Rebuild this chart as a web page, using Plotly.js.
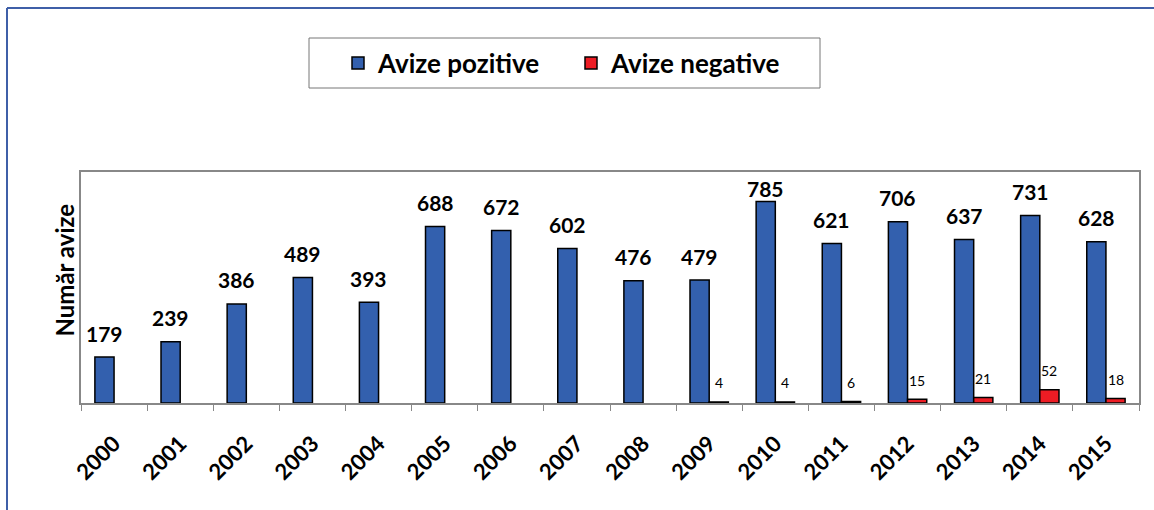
<!DOCTYPE html>
<html><head><meta charset="utf-8">
<script src="https://cdn.plot.ly/plotly-3.0.1.min.js"></script>
<style>html,body{margin:0;padding:0;background:#fff}#c{width:1154px;height:510px}</style>
</head><body><div id="c"></div>
<script>
const years = ['2000','2001','2002','2003','2004','2005','2006','2007','2008','2009','2010','2011','2012','2013','2014','2015'];
const pozitive = [179,239,386,489,393,688,672,602,476,479,785,621,706,637,731,628];
const negativeYears = ['2009','2010','2011','2012','2013','2014','2015'];
const negative = [4,4,6,15,21,52,18];
const seriesNames = ['Avize pozitive','Avize negative'];
const yTitle = 'Număr avize';

const W=1154,H=510,L=81,R=15,T=172,B=107;
const pw=W-L-R, ph=H-T-B, yMax=900, pxPer=ph/yMax;
const px = v => (v-L)/pw, py = v => (H-B-v)/ph;
const F = 'Lato, "Open Sans", sans-serif';

const blue='#3360AE', red='#ED1C24';
const traces=[
 {type:'bar',name:seriesNames[0],x:years,y:pozitive,marker:{color:blue,line:{color:'#000',width:1.5}},offsetgroup:'a',hoverinfo:'x+y'},
 {type:'bar',name:seriesNames[1],x:negativeYears,y:negative,marker:{color:red,line:{color:'#000',width:1.5}},offsetgroup:'b',hoverinfo:'x+y'}
];
const bw = pw/years.length*0.58/2;
const ann=[];
pozitive.forEach((v,i)=>{
  const room=(yMax-v)*pxPer-16;
  ann.push({x:i,y:v,xref:'x',yref:'y',text:String(v),showarrow:false,xshift:-bw/2,yshift:Math.min(24,room),
    font:{family:F,size:21,color:'#000',weight:'bold'}});
});
negative.forEach((v,i)=>{
  ann.push({x:years.indexOf(negativeYears[i]),y:v,xref:'x',yref:'y',text:String(v),showarrow:false,xshift:bw/2,yshift:19,
    font:{family:F,size:14,color:'#000'}});
});
ann.push({xref:'paper',yref:'paper',x:px(47),y:py(270),text:yTitle,textangle:-90,showarrow:false,
  font:{family:F,size:24,color:'#000',weight:'bold'}});

const layout={
 width:W,height:H,margin:{l:L,r:R,t:T,b:B},paper_bgcolor:'#fff',plot_bgcolor:'#fff',
 barmode:'group',bargap:0.42,bargroupgap:0,
 font:{family:F,color:'#000'},
 xaxis:{type:'category',categoryorder:'array',categoryarray:years,range:[-0.5,15.5],showline:true,linecolor:'#888',linewidth:2,mirror:true,
   ticks:'outside',tickson:'boundaries',ticklen:6,tickcolor:'#888',tickwidth:1,tickangle:-45,ticklabelstandoff:17,
   tickfont:{family:F,size:22,color:'#000',weight:'bold'},showgrid:false,zeroline:false},
 yaxis:{range:[0,yMax],showline:true,linecolor:'#888',linewidth:2,mirror:true,showticklabels:false,ticks:'',showgrid:false,zeroline:false},
 showlegend:true,
 legend:{orientation:'h',x:px(338),xanchor:'left',y:py(63),yanchor:'middle',font:{family:F,size:26,color:'#000',weight:'bold'},
   bgcolor:'rgba(0,0,0,0)',borderwidth:0,entrywidth:188,entrywidthmode:'pixels',itemwidth:30},
 annotations:ann,
 shapes:[
  {type:'rect',xref:'paper',yref:'paper',x0:px(309),x1:px(820),y0:py(88),y1:py(38),line:{color:'#777',width:1}},
  {type:'line',xref:'paper',yref:'paper',x0:px(7),x1:px(1160),y0:py(8),y1:py(8),line:{color:'#3F5FA8',width:2}},
  {type:'line',xref:'paper',yref:'paper',x0:px(7),x1:px(7),y0:py(8),y1:py(520),line:{color:'#3F5FA8',width:2}}
 ]
};
Plotly.newPlot('c',traces,layout,{displayModeBar:false,staticPlot:true});
</script></body></html>
